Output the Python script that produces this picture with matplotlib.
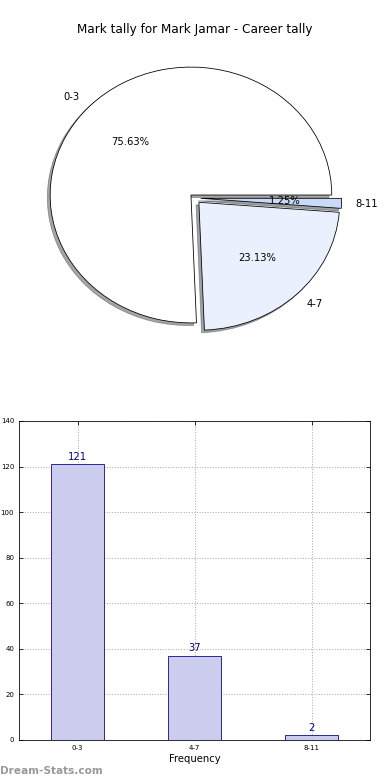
import matplotlib
matplotlib.use("Agg")
import matplotlib.pyplot as plt

# data
labels = ["0-3", "4-7", "8-11"]
counts = [121, 37, 2]
pie_colors = ["#ffffff", "#eaf0fe", "#c8daf8"]
explode = [0.035, 0.045, 0.045]
yticks = [0, 20, 40, 60, 80, 100, 120, 140]


def pct(p):
    # round half up, like the original labels
    hundredths = int(p * 100 + 0.5 + 1e-4)
    return "%d.%02d%%" % (hundredths // 100, hundredths % 100)


fig = plt.figure(figsize=(390 / 72, 780 / 72), dpi=72)

# pie
ax1 = fig.add_axes([0.0474, 0.541, 0.9026, 0.410])
wedges, texts, autotexts = ax1.pie(counts, labels=labels, colors=pie_colors, explode=explode,
                                   autopct=pct, shadow=True, startangle=0,
                                   wedgeprops={"edgecolor": "black", "linewidth": 0.8},
                                   textprops={"fontsize": 10})
ax1.set_aspect("auto")
ax1.set_xlim(-1.25, 1.25)
ax1.set_ylim(-1.25, 1.25)
fig.text(0.5, 1 - 30 / 780, "Mark tally for Mark Jamar - Career tally", ha="center", va="center", fontsize=12)

# bars
ax2 = fig.add_axes([0.049, 0.0513, 0.9, 0.409])
x = range(len(labels))
bars = ax2.bar(x, counts, width=0.45, color="#ccccee", edgecolor="navy", linewidth=0.8, zorder=2)
for i, v in enumerate(counts):
    ax2.text(i, v + 1, str(v), ha="center", va="bottom", color="navy", fontsize=10)
ax2.set_xlim(-0.5, 2.5)
ax2.set_ylim(0, 140)
ax2.set_yticks(yticks)
ax2.set_xticks(list(x))
ax2.set_xticklabels(labels)
ax2.tick_params(labelsize=7, direction="in", top=True, right=True, length=4, pad=5)
ax2.grid(True, linestyle=":", color="#aaaaaa", linewidth=1, zorder=0)
ax2.set_axisbelow(True)
ax2.set_xlabel("Frequency", fontsize=10, labelpad=3)

fig.text(0.0, 1 - 771 / 780, "Dream-Stats.com", fontsize=10.5, color="#999999", fontweight="bold", va="center")

fig.savefig("out.png", dpi=72)
